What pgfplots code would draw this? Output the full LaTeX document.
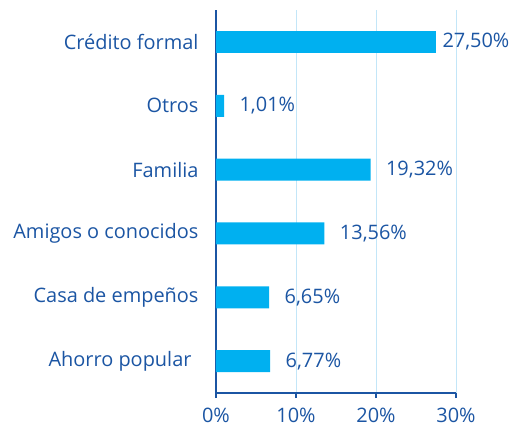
\documentclass[border=0pt]{standalone}
\usepackage{pgfplots}
\pgfplotsset{compat=1.18}
\usepackage{fontspec}
\setmainfont{Open Sans}
\definecolor{barblue}{HTML}{00B0F0}
\definecolor{txtblue}{HTML}{1B55A3}
\definecolor{gridblue}{HTML}{C3E6F8}
\begin{document}
\begin{tikzpicture}
\useasboundingbox (-216bp,-35bp) rectangle (298bp,393bp);
\begin{axis}[
  at={(0,0)}, anchor=south west,
  scale only axis,
  width=240bp, height=383bp,
  xbar, bar shift=0pt, bar width=22bp,
  xmin=0, xmax=30, ymin=-0.5, ymax=5.5,
  xtick={0,10,20,30},
  xticklabel={\pgfmathprintnumber{\tick}\%},
  ytick={0,...,5},
  yticklabels={{Ahorro popular\rule{7bp}{0pt}}, Casa de empeños, Amigos o conocidos, Familia, Otros, Crédito formal},
  /pgf/number format/assume math mode=true,
  axis x line*=bottom, axis y line*=left,
  axis line style={txtblue, line width=1.8bp, -},
  xmajorgrids, grid style={gridblue, line width=0.8bp},
  major x tick style={txtblue, line width=1.4bp},
  xtick align=outside, major tick length=5bp,
  y tick style={draw=none},
  tick label style={font=\fontsize{20}{23}\selectfont, text=txtblue},
  xticklabel style={yshift=-7bp},
  yticklabel style={xshift=-9bp},
  every node near coord/.append style={font=\fontsize{20}{23}\selectfont, text=txtblue, anchor=west,
    /pgf/number format/fixed, /pgf/number format/zerofill, /pgf/number format/precision=2,
    /pgf/number format/use comma, /pgf/number format/assume math mode=true},
]
\addplot[fill=barblue, draw=none,
  nodes near coords={\pgfmathprintnumber{\pgfplotspointmeta}\%},
  every node near coord/.append style={xshift=12bp}]
  coordinates {(6.77,0) (6.65,1) (13.56,2) (19.32,3) (1.01,4)};
\addplot[fill=barblue, draw=none,
  nodes near coords={\pgfmathprintnumber{\pgfplotspointmeta}\%},
  every node near coord/.append style={xshift=3bp}]
  coordinates {(27.50,5)};
\end{axis}
\end{tikzpicture}
\end{document}
